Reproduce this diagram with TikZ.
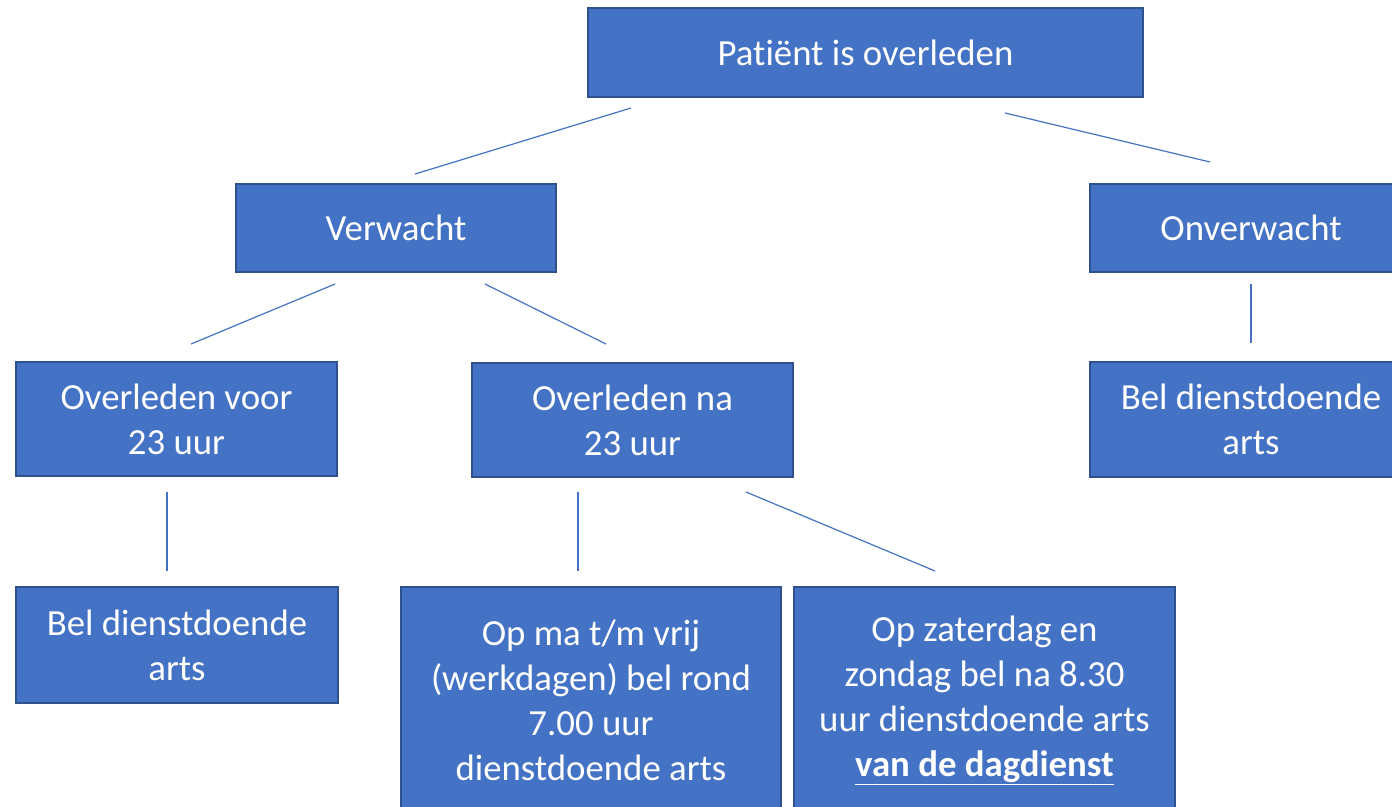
\documentclass[tikz,border=0pt]{standalone}
\usepackage{fontspec}
\setmainfont[Ligatures=NoCommon]{Carlito}
\definecolor{boxfill}{HTML}{4472C4}
\definecolor{boxline}{HTML}{2F528F}
\newcommand{\myul}[1]{\underline{#1}}
\begin{document}
\begin{tikzpicture}[x=1pt,y=-1pt,
  box/.style={draw=boxline, line width=1.5pt, fill=boxfill, text=white, align=center,
    inner sep=0pt, font=\fontsize{36.8}{45}\selectfont},
  conn/.style={draw=boxfill, line width=1.2pt}]
\useasboundingbox (0,0) rectangle (1392,806);
\node[box, minimum width=555pt, minimum height=89pt] (top) at (865.5,52.5) {Pat\kern0pt iënt is overleden};
\node[box, minimum width=320pt, minimum height=88pt] (verw) at (396,228) {Verwacht};
\node[box, minimum width=322pt, minimum height=88pt] (onverw) at (1251,228) {Onverwacht};
\node[box, minimum width=321pt, minimum height=114pt] (voor) at (176.5,419) {Overleden voor\\23 uur};
\node[box, minimum width=321pt, minimum height=114pt] (na) at (632.5,420) {Overleden na\\23 uur};
\node[box, minimum width=322pt, minimum height=115pt] (belr) at (1251,419.5) {Bel dienstdoende\\arts};
\node[box, minimum width=322pt, minimum height=116pt] (bell) at (177,645) {Bel dienstdoende\\arts};
\node[box, minimum width=380pt, minimum height=226pt] (ma) at (591,700) {Op ma t/m vrij\\(werkdagen) bel rond\\7.00 uur\\dienstdoende arts};
\node[box, minimum width=381pt, minimum height=226pt] (za) at (984.5,700) {Op zaterdag en\\zondag bel na 8.30\\uur dienstdoende arts\\\textbf{\setlength{\fboxrule}{0pt}\myul{van de dagdienst}}};
\coordinate (a1) at (631,108); \coordinate (a2) at (415,174);
\coordinate (b1) at (1005,113); \coordinate (b2) at (1210,162);
\coordinate (c1) at (335,284); \coordinate (c2) at (191,344);
\coordinate (d1) at (485,284); \coordinate (d2) at (606,344);
\coordinate (e1) at (1251,284); \coordinate (e2) at (1251,343);
\coordinate (f1) at (167,492); \coordinate (f2) at (167,571);
\coordinate (g1) at (578,492); \coordinate (g2) at (578,571);
\coordinate (h1) at (746,492); \coordinate (h2) at (935,571);
\draw[conn] (a1) -- (a2);
\draw[conn] (b1) -- (b2);
\draw[conn] (c1) -- (c2);
\draw[conn] (d1) -- (d2);
\draw[conn] (e1) -- (e2);
\draw[conn] (f1) -- (f2);
\draw[conn] (g1) -- (g2);
\draw[conn] (h1) -- (h2);
\end{tikzpicture}
\end{document}
